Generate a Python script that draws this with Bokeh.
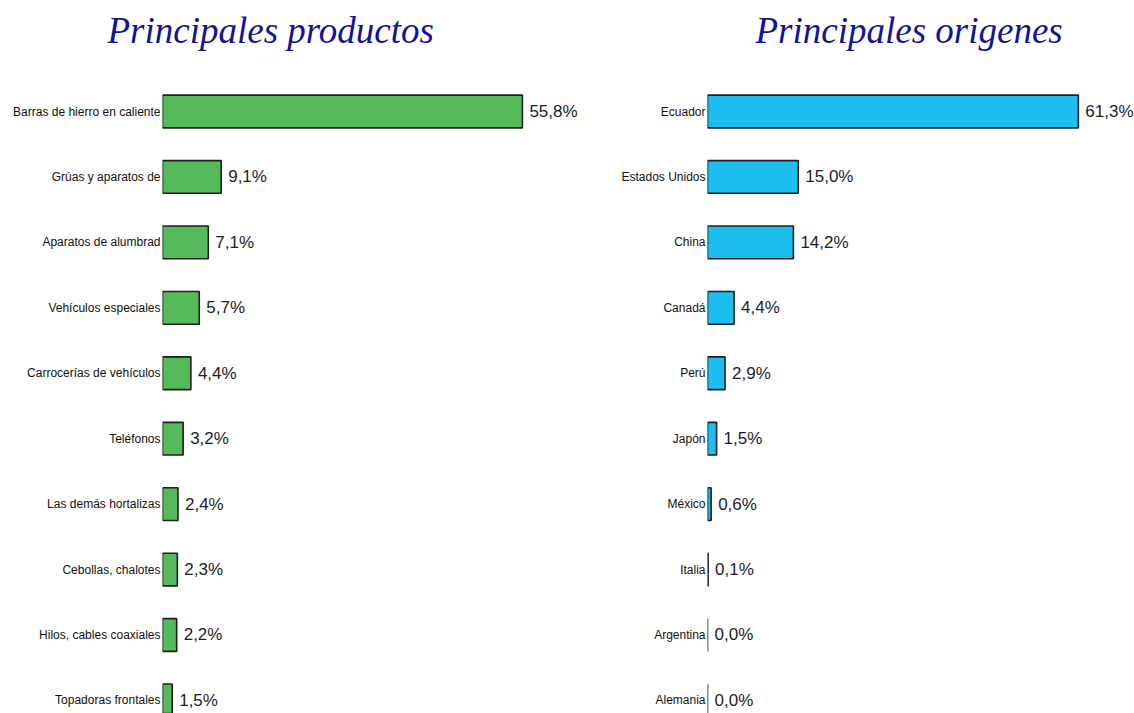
from bokeh.plotting import figure
from bokeh.layouts import row
from bokeh.models import ColumnDataSource, Range1d, FixedTicker
from bokeh.core.properties import value
from bokeh.embed import file_html
from bokeh.resources import INLINE

productos = ["Barras de hierro en caliente", "Grúas y aparatos de", "Aparatos de alumbrad",
             "Vehículos especiales", "Carrocerías de vehículos", "Teléfonos",
             "Las demás hortalizas", "Cebollas, chalotes", "Hilos, cables coaxiales",
             "Topadoras frontales"]
productos_pct = [55.8, 9.1, 7.1, 5.7, 4.4, 3.2, 2.4, 2.3, 2.2, 1.5]

origenes = ["Ecuador", "Estados Unidos", "China", "Canadá", "Perú", "Japón",
            "México", "Italia", "Argentina", "Alemania"]
origenes_pct = [61.3, 15.0, 14.2, 4.4, 2.9, 1.5, 0.6, 0.1, 0.0, 0.0]

LABEL_FONT = "Liberation Sans"
TITLE_FONT = "Liberation Serif"


def make_chart(title, names, vals, color, width, border_left, xmax, title_offset):
    idx = list(range(len(names)))
    src = ColumnDataSource(dict(
        y=idx, v=vals, name=names,
        lab=[f"{v:.1f}".replace(".", ",") + "%" for v in vals]))
    p = figure(width=width, height=713, output_backend="svg", toolbar_location=None,
               x_range=Range1d(0, xmax), y_range=Range1d(9.2, -0.841),
               min_border_left=border_left, min_border_right=0,
               min_border_bottom=0, min_border_top=56, title=title)
    p.title.text_font = TITLE_FONT
    p.title.text_font_style = "italic"
    p.title.text_font_size = "37px"
    p.title.text_color = "#12129A"
    p.title.align = "left"
    p.title.offset = title_offset
    p.title.standoff = 11
    p.hbar(y="y", left=0, right="v", height=0.5, source=src,
           fill_color=color, line_color="#1f1f1f", line_width=1.6)
    p.text(x="v", y="y", text="lab", source=src, x_offset=7,
           text_align="left", text_baseline="middle",
           text_font=value(LABEL_FONT), text_font_size="17px", text_color="#1c1c2a")
    p.xaxis.visible = False
    p.yaxis.ticker = FixedTicker(ticks=idx)
    p.yaxis.major_label_overrides = {i: n for i, n in zip(idx, names)}
    p.yaxis.axis_line_color = None
    p.yaxis.major_tick_line_color = None
    p.yaxis.minor_tick_line_color = None
    p.yaxis.major_tick_out = 0
    p.yaxis.major_label_standoff = 2
    p.yaxis.major_label_text_font = LABEL_FONT
    p.yaxis.major_label_text_font_size = "12px"
    p.yaxis.major_label_text_color = "#111111"
    p.xgrid.visible = False
    p.ygrid.visible = False
    p.outline_line_color = None
    return p


left = make_chart("Principales productos", productos, productos_pct, "#55BA5A",
                  600, 162, 438 / 6.45, -55)
right = make_chart("Principales origenes", origenes, origenes_pct, "#1BBEEE",
                   534, 107, 427 / 6.05, 48)

layout = row(left, right)
open("out.html", "w").write(file_html(layout, INLINE))
